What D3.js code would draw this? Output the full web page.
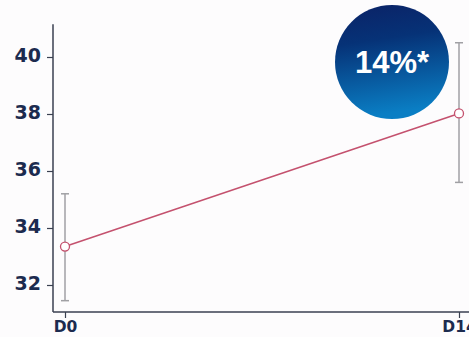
<!DOCTYPE html>
<html><head><meta charset="utf-8">
<script src="https://cdn.jsdelivr.net/npm/d3@7"></script>
<style>html,body{margin:0;padding:0;background:#fdfcfd;}svg{display:block;}</style>
</head><body>
<script>
const categories = ["D0", "D14"];
const means = [33.35, 38.02];
const upper = [35.2, 40.5];
const lower = [31.45, 35.6];
const yTicks = [32, 34, 36, 38, 40];
const badgeText = "14%*";

const W = 469, H = 337;
const svg = d3.select("body").append("svg").attr("width", W).attr("height", H);

const y = d3.scaleLinear().domain([32, 40]).range([285, 57]);
const x = d3.scalePoint().domain(categories).range([65, 459]);
const axisLeftX = 53, axisBottomY = 312;

const navy = "#1c2b4f";
const tickFont = "'DejaVu Sans', Verdana, sans-serif";

// y axis
const yAxis = svg.append("g").attr("transform", `translate(${axisLeftX},0)`)
  .call(d3.axisLeft(y).tickValues(yTicks).tickSize(6).tickPadding(6).tickFormat(d3.format("d")));
yAxis.select(".domain").attr("d", `M0,${y(41.15)}V${axisBottomY}`).attr("stroke", "#3a4050").attr("stroke-width", 1.5);
yAxis.selectAll(".tick line").attr("stroke", "#3a4050").attr("stroke-width", 1.2);
yAxis.selectAll(".tick text").attr("fill", navy).attr("font-family", tickFont)
  .attr("font-weight", "bold").attr("font-size", 19).attr("dy", "0.25em");

// x axis
const xAxis = svg.append("g").attr("transform", `translate(0,${axisBottomY})`)
  .call(d3.axisBottom(x).tickSize(6).tickPadding(3));
xAxis.select(".domain").attr("d", `M${axisLeftX},0H${W}`).attr("stroke", "#3a4050").attr("stroke-width", 1.5);
xAxis.selectAll(".tick line").attr("stroke", "#3a4050").attr("stroke-width", 1.2);
xAxis.selectAll(".tick text").attr("fill", navy).attr("font-family", tickFont)
  .attr("font-weight", "bold").attr("font-size", 15.5);

// error bars
const eb = svg.append("g");
categories.forEach((c, i) => {
  eb.append("line").attr("x1", x(c)).attr("x2", x(c)).attr("y1", y(upper[i])).attr("y2", y(lower[i]))
    .attr("stroke", "#a0a0a4").attr("stroke-width", 1.5);
  [upper[i], lower[i]].forEach(v => {
    eb.append("line").attr("x1", x(c) - 4).attr("x2", x(c) + 4).attr("y1", y(v)).attr("y2", y(v))
      .attr("stroke", "#a0a0a4").attr("stroke-width", 1.5);
  });
});

// line
const data = categories.map((c, i) => ({c, v: means[i]}));
svg.append("path").datum(data)
  .attr("d", d3.line().x(d => x(d.c)).y(d => y(d.v)))
  .attr("fill", "none").attr("stroke", "#c4516e").attr("stroke-width", 1.5);
svg.selectAll("circle.pt").data(data).enter().append("circle").attr("class", "pt")
  .attr("cx", d => x(d.c)).attr("cy", d => y(d.v)).attr("r", 4.5)
  .attr("fill", "#fff").attr("stroke", "#c4516e").attr("stroke-width", 1.3);

// badge
const defs = svg.append("defs");
const g = defs.append("linearGradient").attr("id", "bg").attr("x1", 0).attr("y1", 0).attr("x2", 0.15).attr("y2", 1);
g.append("stop").attr("offset", "0%").attr("stop-color", "#0b2266");
g.append("stop").attr("offset", "35%").attr("stop-color", "#063277");
g.append("stop").attr("offset", "100%").attr("stop-color", "#0a7ec4");
svg.append("circle").attr("cx", 392).attr("cy", 62).attr("r", 57).attr("fill", "url(#bg)");
svg.append("text").attr("x", 392).attr("y", 73).attr("text-anchor", "middle")
  .attr("fill", "#fff").attr("font-family", "'Liberation Sans', Arial, sans-serif")
  .attr("font-weight", "bold").attr("font-size", 31).text(badgeText);
</script>
</body></html>
